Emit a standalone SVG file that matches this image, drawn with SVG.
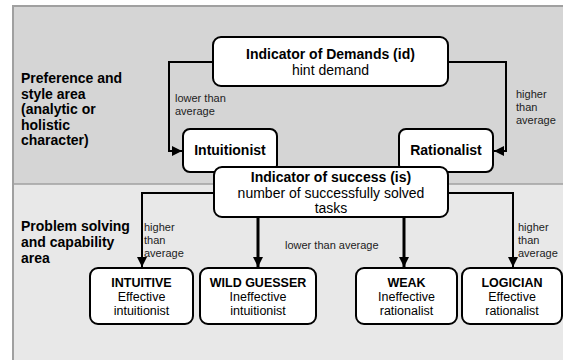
<svg xmlns="http://www.w3.org/2000/svg" width="563" height="360" viewBox="0 0 563 360">
<defs>
<marker id="ah" viewBox="0 0 10 10" refX="10" refY="5" markerWidth="10" markerHeight="10" markerUnits="userSpaceOnUse" orient="auto"><path d="M0,0 L10,5 L0,10 z" fill="#000"/></marker>
<style>
text{font-family:"Liberation Sans",Arial,sans-serif;fill:#000}
.b{font-weight:bold;font-size:14px}
.r{font-size:14px}
.s{font-size:11px;fill:#222}
.sb{font-weight:bold;font-size:12.5px}
.sr{font-size:12.5px}
.c{text-anchor:middle}
.box{fill:#fff;stroke:#000;stroke-width:2}
.ln{fill:none;stroke:#000;stroke-width:2}
.lt{fill:none;stroke:#000;stroke-width:3}
</style>
</defs>
<g id="panels">
<rect x="13" y="6" width="560" height="178" fill="#d5d5d5"/>
<rect x="13" y="184" width="560" height="180" fill="#e8e8e8"/>
<path d="M13,370 V6 H570" fill="none" stroke="#a0a0a0" stroke-width="2"/>
<line x1="13" y1="184" x2="570" y2="184" stroke="#a0a0a0" stroke-width="1.5"/>
<text class="b" x="21" y="83">Preference and</text>
<text class="b" x="21" y="98.5">style area</text>
<text class="b" x="21" y="114">(analytic or</text>
<text class="b" x="21" y="129.5">holistic</text>
<text class="b" x="21" y="145">character)</text>
<text class="b" x="21" y="231">Problem solving</text>
<text class="b" x="21" y="247">and capability</text>
<text class="b" x="21" y="263">area</text>
</g>
<g id="connectors">
<path class="ln" d="M213,62 H169 V151 H182" marker-end="url(#ah)"/>
<path class="ln" d="M448,62 H506 V151 H494" marker-end="url(#ah)"/>
<path class="ln" d="M214,193 H142 V267" marker-end="url(#ah)"/>
<path class="ln" d="M448,193 H513 V267" marker-end="url(#ah)"/>
<path class="lt" d="M258,217 V267" marker-end="url(#ah)"/>
<path class="lt" d="M404,217 V267" marker-end="url(#ah)"/>
<text class="s" x="175" y="102">lower than</text>
<text class="s" x="175" y="115">average</text>
<text class="s" x="516" y="98">higher</text>
<text class="s" x="516" y="111">than</text>
<text class="s" x="516" y="124">average</text>
<text class="s" x="144" y="231">higher</text>
<text class="s" x="144" y="244">than</text>
<text class="s" x="144" y="257">average</text>
<text class="s" x="518" y="231">higher</text>
<text class="s" x="518" y="244">than</text>
<text class="s" x="518" y="257">average</text>
<text class="s" x="285" y="249">lower than average</text>
</g>
<g id="demands">
<rect class="box" x="213" y="37" width="235" height="49" rx="8"/>
<text class="b c" x="330.5" y="59">Indicator of Demands (id)</text>
<text class="r c" x="330.5" y="75">hint demand</text>
</g>
<g id="intuitionist">
<rect class="box" x="183" y="129" width="94" height="43" rx="7"/>
<text class="b c" x="230" y="155">Intuitionist</text>
</g>
<g id="rationalist">
<rect class="box" x="399" y="129" width="94" height="43" rx="7"/>
<text class="b c" x="446" y="155">Rationalist</text>
</g>
<g id="success">
<rect class="box" x="214" y="167" width="234" height="50" rx="8"/>
<text class="b c" x="331" y="182">Indicator of success (is)</text>
<text class="r c" x="331" y="198">number of successfully solved</text>
<text class="r c" x="331" y="213">tasks</text>
</g>
<g id="intuitive">
<rect class="box" x="90" y="268" width="103" height="56" rx="8"/>
<text class="sb c" x="141.5" y="287">INTUITIVE</text>
<text class="sr c" x="141.5" y="301">Effective</text>
<text class="sr c" x="141.5" y="315">intuitionist</text>
</g>
<g id="wildguesser">
<rect class="box" x="200" y="268" width="116" height="56" rx="8"/>
<text class="sb c" x="258" y="287">WILD GUESSER</text>
<text class="sr c" x="258" y="301">Ineffective</text>
<text class="sr c" x="258" y="315">intuitionist</text>
</g>
<g id="weak">
<rect class="box" x="356" y="268" width="101" height="56" rx="8"/>
<text class="sb c" x="406.5" y="287">WEAK</text>
<text class="sr c" x="406.5" y="301">Ineffective</text>
<text class="sr c" x="406.5" y="315">rationalist</text>
</g>
<g id="logician">
<rect class="box" x="462" y="268" width="100" height="56" rx="8"/>
<text class="sb c" x="512" y="287">LOGICIAN</text>
<text class="sr c" x="512" y="301">Effective</text>
<text class="sr c" x="512" y="315">rationalist</text>
</g>
</svg>
